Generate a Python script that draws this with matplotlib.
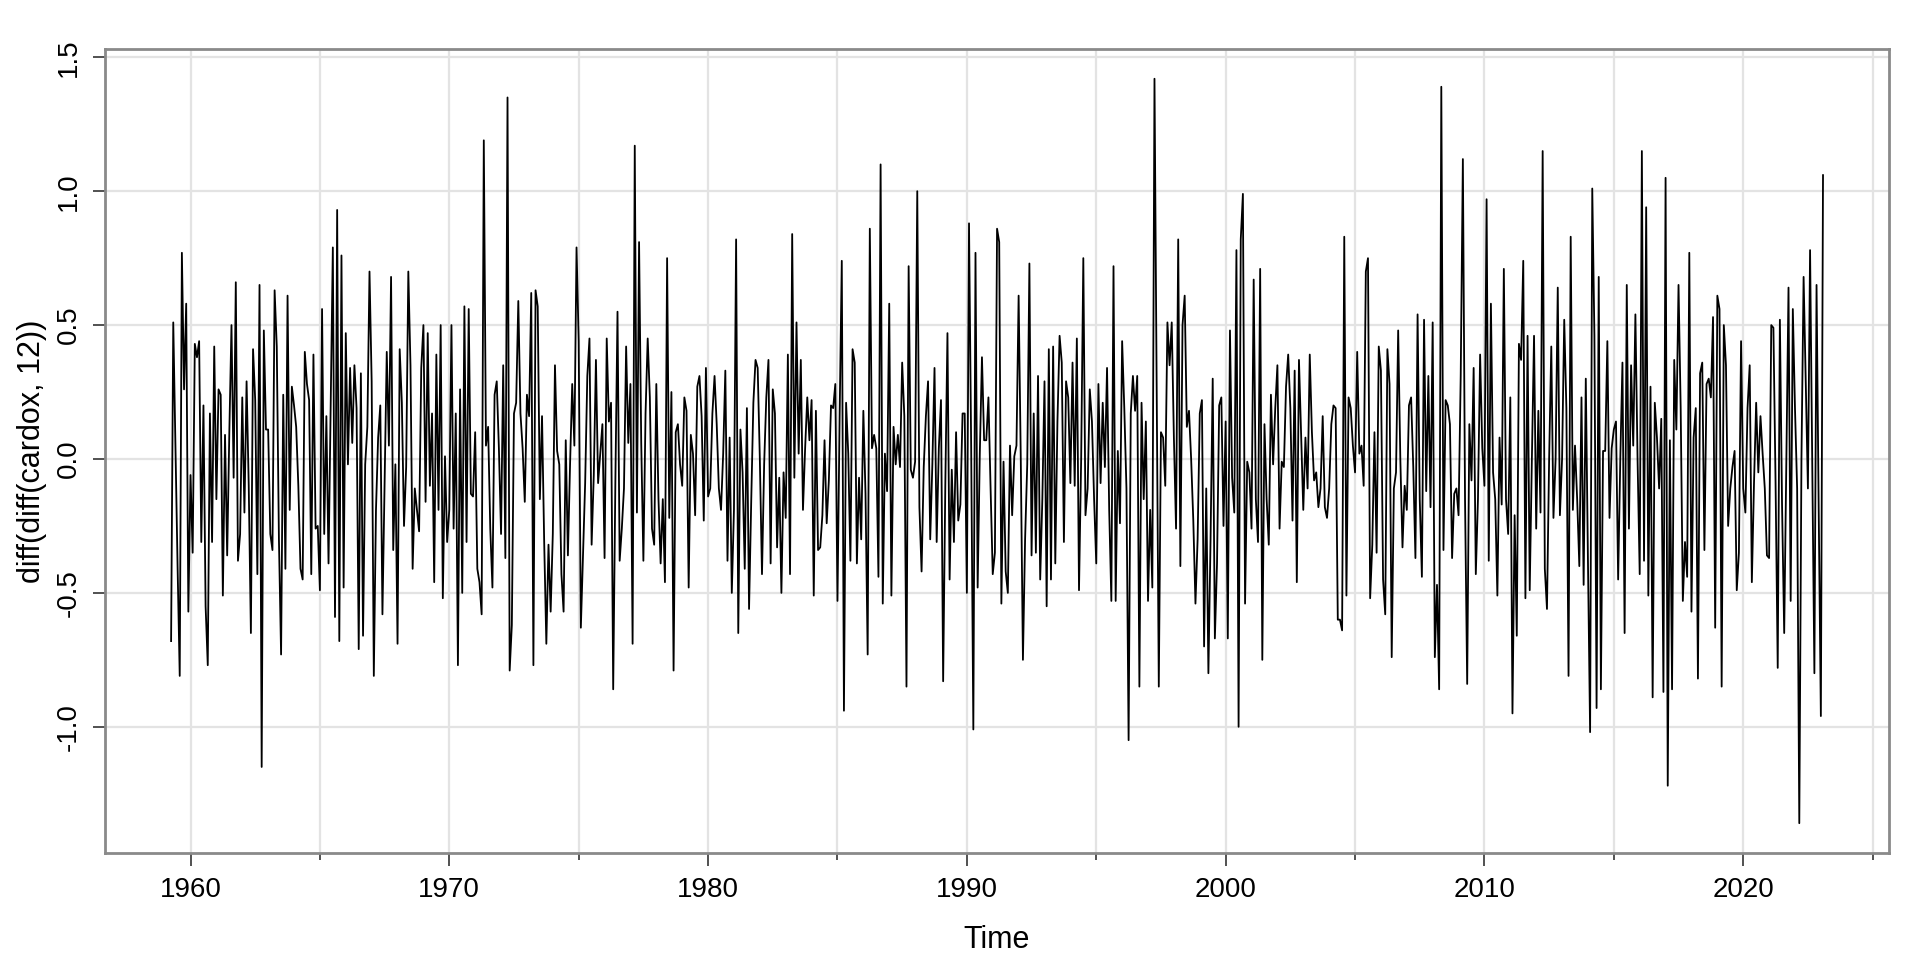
# Second differences of the Mauna Loa CO2 series, drawn in the style of astsa::tsplot

import numpy as np
import matplotlib
matplotlib.use("Agg")
import matplotlib.pyplot as plt


# ------------------------------------------------------------
# Data: diff(diff(cardox, 12)), monthly, starting April 1959
# (one per month)
# ------------------------------------------------------------

start_year = 1959
start_month = 4
frequency = 12

values_1959_1965 = [
    -0.68, 0.51, 0.05, -0.40, -0.81, 0.77, 0.26, 0.58, -0.57, -0.06,
    -0.35, 0.43, 0.38, 0.44, -0.31, 0.20, -0.55, -0.77, 0.17, -0.31,
    0.42, -0.15, 0.26, 0.24, -0.51, 0.09, -0.36, 0.10, 0.50, -0.07,
    0.66, -0.38, -0.28, 0.23, -0.20, 0.29, -0.10, -0.65, 0.41, 0.22,
    -0.43, 0.65, -1.15, 0.48, 0.11, 0.11, -0.28, -0.34, 0.63, 0.42,
    -0.30, -0.73, 0.24, -0.41, 0.61, -0.19, 0.27, 0.20, 0.12, -0.10,
    -0.41, -0.45, 0.40, 0.28, 0.22, -0.43, 0.39, -0.26, -0.25, -0.49,
    0.56, -0.28, 0.16, -0.39, 0.20, 0.79, -0.59, 0.93, -0.68,
]

values_1965_1972 = [
    0.76, -0.48, 0.47, -0.02, 0.34, 0.06, 0.35, 0.19, -0.71, 0.32,
    -0.66, -0.02, 0.12, 0.70, 0.29, -0.81, -0.19, 0.08, 0.20, -0.58,
    -0.09, 0.40, 0.05, 0.68, -0.34, -0.02, -0.69, 0.41, 0.21, -0.25,
    -0.03, 0.70, 0.35, -0.41, -0.11, -0.19, -0.27, 0.34, 0.50, -0.16,
    0.47, -0.10, 0.17, -0.46, 0.39, -0.19, 0.50, -0.52, 0.01, -0.31,
    -0.19, 0.50, -0.26, 0.17, -0.77, 0.26, -0.50, 0.57, -0.31, 0.56,
    -0.13, -0.14, 0.10, -0.41, -0.46, -0.58, 1.19, 0.05, 0.12, -0.26,
    -0.48, 0.24, 0.29, 0.04, -0.28, 0.35, -0.37, 1.35, -0.79,
]

values_1972_1978 = [
    -0.62, 0.17, 0.21, 0.59, 0.17, 0.04, -0.16, 0.24, 0.16, 0.62,
    -0.77, 0.63, 0.57, -0.15, 0.16, -0.31, -0.69, -0.32, -0.57, -0.28,
    0.35, 0.03, -0.02, -0.43, -0.57, 0.07, -0.36, -0.02, 0.28, 0.05,
    0.79, 0.44, -0.63, -0.36, -0.09, 0.31, 0.45, -0.32, -0.06, 0.37,
    -0.09, 0.02, 0.13, -0.37, 0.45, 0.14, 0.21, -0.86, -0.09, 0.55,
    -0.38, -0.26, -0.11, 0.42, 0.06, 0.28, -0.69, 1.17, -0.20, 0.81,
    0.06, -0.38, 0.17, 0.45, 0.23, -0.26, -0.32, 0.28, -0.15, -0.39,
    -0.15, -0.46, 0.75, -0.22, 0.25, -0.79, 0.10, 0.13,
]

values_1978_1985 = [
    -0.02, -0.10, 0.23, 0.18, -0.48, 0.09, 0.02, -0.21, 0.27, 0.31,
    0.16, -0.23, 0.34, -0.14, -0.11, 0.17, 0.31, 0.13, -0.11, -0.19,
    0.02, 0.33, -0.38, 0.08, -0.50, -0.19, 0.82, -0.65, 0.11, -0.05,
    -0.41, 0.19, -0.56, -0.16, 0.21, 0.37, 0.34, 0.00, -0.43, -0.02,
    0.23, 0.37, -0.39, 0.26, 0.17, -0.33, -0.07, -0.50, -0.05, -0.22,
    0.39, -0.43, 0.84, -0.07, 0.51, 0.02, 0.37, -0.19, 0.04, 0.23,
    0.07, 0.22, -0.51, 0.18, -0.34, -0.33, -0.21, 0.07, -0.24, -0.08,
    0.20, 0.19, 0.28, -0.53, 0.16, 0.74, -0.94, 0.21, 0.02,
]

values_1985_1992 = [
    -0.38, 0.41, 0.36, -0.39, -0.07, -0.30, 0.18, -0.13, -0.73, 0.86,
    0.04, 0.09, 0.04, -0.44, 1.10, -0.54, 0.02, -0.12, 0.58, -0.51,
    0.12, -0.02, 0.09, -0.03, 0.36, 0.16, -0.85, 0.72, -0.04, -0.07,
    -0.01, 1.00, -0.18, -0.42, -0.03, 0.16, 0.29, -0.30, -0.02, 0.34,
    -0.31, 0.04, 0.22, -0.83, -0.10, 0.47, -0.45, -0.04, -0.31, 0.10,
    -0.23, -0.17, 0.17, 0.17, -0.50, 0.88, 0.04, -1.01, 0.77, -0.48,
    0.02, 0.38, 0.07, 0.07, 0.23, -0.11, -0.43, -0.35, 0.86, 0.81,
    -0.54, -0.01, -0.42, -0.50, 0.05, -0.21, 0.01, 0.05, 0.61,
]

values_1992_1998 = [
    0.00, -0.75, -0.30, -0.02, 0.73, -0.36, 0.17, -0.35, 0.31, -0.45,
    -0.15, 0.29, -0.55, 0.41, -0.45, 0.42, -0.39, 0.14, 0.46, 0.36,
    -0.31, 0.29, 0.23, -0.09, 0.36, -0.10, 0.45, -0.49, 0.00, 0.75,
    -0.21, -0.11, 0.26, 0.14, -0.15, -0.39, 0.28, -0.09, 0.21, -0.03,
    0.34, -0.19, -0.53, 0.72, -0.53, 0.03, -0.24, 0.44, 0.19, -0.11,
    -1.05, 0.17, 0.31, 0.18, 0.31, -0.85, 0.21, -0.15, 0.14, -0.53,
    -0.19, -0.48, 1.42, 0.30, -0.85, 0.10, 0.08, -0.10, 0.51, 0.35,
    0.51, 0.08, -0.26, 0.82, -0.40, 0.50, 0.61, 0.12, 0.18,
]

values_1998_2005 = [
    0.00, -0.23, -0.54, -0.30, 0.17, 0.22, -0.70, -0.11, -0.80, -0.30,
    0.30, -0.67, -0.39, 0.20, 0.23, -0.25, 0.14, -0.67, 0.48, -0.07,
    -0.20, 0.78, -1.00, 0.82, 0.99, -0.54, -0.01, -0.05, -0.26, 0.67,
    -0.15, -0.31, 0.71, -0.75, 0.13, -0.15, -0.32, 0.24, -0.02, 0.19,
    0.35, -0.26, -0.01, -0.03, 0.27, 0.39, 0.19, -0.23, 0.33, -0.46,
    0.37, 0.09, -0.19, 0.08, -0.11, 0.39, 0.10, -0.08, -0.05, -0.18,
    -0.11, 0.16, -0.18, -0.22, -0.11, 0.13, 0.20, 0.19, -0.60, -0.60,
    -0.64, 0.83, -0.51, 0.23, 0.19, 0.05, -0.05, 0.40, 0.02,
]

values_2005_2011 = [
    0.05, -0.10, 0.70, 0.75, -0.52, -0.32, 0.10, -0.35, 0.42, 0.33,
    -0.45, -0.58, 0.41, 0.28, -0.74, -0.11, -0.05, 0.48, 0.00, -0.33,
    -0.10, -0.19, 0.20, 0.23, -0.03, -0.37, 0.54, -0.15, -0.44, 0.52,
    -0.12, 0.31, -0.18, 0.51, -0.74, -0.47, -0.86, 1.39, -0.34, 0.22,
    0.20, 0.13, -0.37, -0.13, -0.11, -0.21, 0.31, 1.12, -0.15, -0.84,
    0.13, -0.08, 0.34, -0.43, -0.15, 0.39, 0.04, -0.10, 0.97, -0.38,
    0.58, -0.05, -0.15, -0.51, 0.08, -0.17, 0.71, -0.15, -0.28, 0.23,
    -0.95, -0.21, -0.66, 0.43, 0.37, 0.74, -0.52, 0.46, -0.49,
]

values_2011_2023 = [
    0.00, 0.46, -0.26, 0.18, -0.20, 1.15, -0.41, -0.56, 0.00, 0.42,
    -0.22, 0.00, 0.64, -0.21, 0.00, 0.52, 0.19, -0.81, 0.83, -0.19,
    0.05, -0.15, -0.40, 0.23, -0.47, 0.30, -0.38, -1.02, 1.01, 0.46,
    -0.93, 0.68, -0.86, 0.03, 0.03, 0.44, -0.22, 0.04, 0.11, 0.14,
    -0.45, 0.00, 0.36, -0.65, 0.65, -0.26, 0.35, 0.05, 0.54, 0.00,
    -0.43, 1.15, -0.38, 0.94, -0.51, 0.27, -0.89, 0.21, 0.08, -0.11,
    0.15, -0.87, 1.05, -1.22, 0.07, -0.86, 0.37, 0.11, 0.65, 0.19,
    -0.53, -0.31, -0.44, 0.77, -0.57, 0.08, 0.19, -0.82, 0.32, 0.36,
    -0.34, 0.28, 0.30, 0.23, 0.53, -0.63, 0.61, 0.56, -0.85, 0.50,
    0.35, -0.25, -0.11, -0.03, 0.03, -0.49, -0.35, 0.44, -0.11, -0.20,
    0.19, 0.35, -0.46, -0.09, 0.21, -0.05, 0.16, 0.02, -0.11, -0.36,
    -0.37, 0.50, 0.49, -0.09, -0.78, 0.52, -0.17, -0.65, 0.00, 0.64,
    -0.53, 0.56, 0.19, -0.11, -1.36, 0.00, 0.68, 0.29, -0.11, 0.78,
    0.00, -0.80, 0.65, -0.19, -0.96, 1.06,
]

x_major_ticks = [1960, 1970, 1980, 1990, 2000, 2010, 2020]
x_minor_ticks = [1965, 1975, 1985, 1995, 2005, 2015, 2025]
y_ticks = [-1.0, -0.5, 0.0, 0.5, 1.0, 1.5]


def padded_limits(data, frac=0.04):
    """Base R style axis range: data range extended by 4% on each side."""
    lo, hi = np.min(data), np.max(data)
    pad = frac * (hi - lo)
    return lo - pad, hi + pad


def main():
    values = np.array(
        values_1959_1965 + values_1965_1972 + values_1972_1978
        + values_1978_1985 + values_1985_1992 + values_1992_1998
        + values_1998_2005 + values_2005_2011 + values_2011_2023
    )
    # time index of a monthly ts object
    time = start_year + (start_month - 1) / frequency + np.arange(len(values)) / frequency

    plt.rcParams["font.family"] = ["Liberation Sans", "DejaVu Sans"]

    fig = plt.figure(figsize=(19.2, 9.6), dpi=100)
    ax = fig.add_axes([0.0547, 0.1115, 0.9292, 0.8375])

    ax.plot(time, values, color="black", linewidth=1.3, zorder=2)

    ax.set_xlim(*padded_limits(time))
    ax.set_ylim(*padded_limits(values))

    ax.set_xticks(x_major_ticks)
    ax.set_xticks(x_minor_ticks, minor=True)
    ax.set_xticklabels([str(t) for t in x_major_ticks])
    ax.set_yticks(y_ticks)
    ax.set_yticklabels([f"{t:.1f}" for t in y_ticks], rotation=90, va="center")

    # light grid at every tick, as in tsplot
    ax.set_axisbelow(True)
    ax.grid(axis="x", which="both", color="#e3e3e3", linewidth=1.6)
    ax.grid(axis="y", which="major", color="#e3e3e3", linewidth=1.6)

    ax.tick_params(axis="both", which="major", labelsize=20, length=9,
                   width=1.2, color="#333333", pad=8)
    ax.tick_params(axis="x", which="minor", length=5, width=1.2, color="#333333")

    for spine in ax.spines.values():
        spine.set_color("#8a8a8a")
        spine.set_linewidth(2.0)

    ax.set_xlabel("Time", fontsize=22, labelpad=16)
    ax.set_ylabel("diff(diff(cardox, 12))", fontsize=22, labelpad=6)

    fig.savefig("out.png", dpi=100)


if __name__ == "__main__":
    main()
